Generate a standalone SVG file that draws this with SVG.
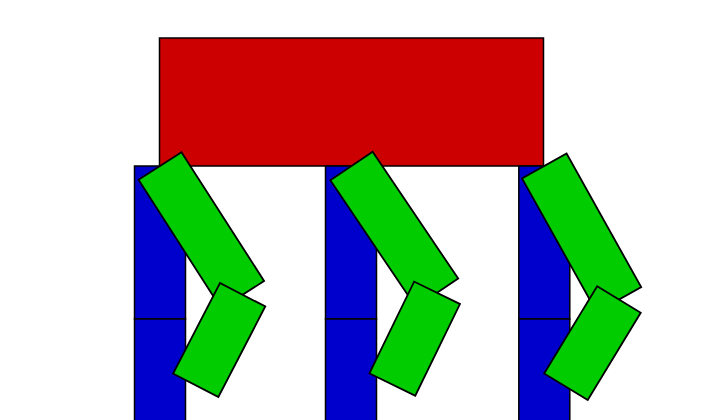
<svg xmlns="http://www.w3.org/2000/svg" width="720" height="420" viewBox="0 0 720 420">
<style>
.body{fill:#cc0000;stroke:#000;stroke-width:1.5}
.ref{fill:#0000cc;stroke:#000;stroke-width:1.5}
.seg{fill:#00cc00;stroke:#000;stroke-width:1.8;stroke-linejoin:miter}
</style>
<rect width="720" height="420" fill="#fff"/>
<g id="body"><rect class="body" x="159.5" y="38" width="384" height="128"/></g>
<g id="leg1-ref">
<rect class="ref" x="134.5" y="166" width="51" height="153"/>
<rect class="ref" x="134.5" y="319" width="51" height="153"/>
</g>
<g id="leg2-ref">
<rect class="ref" x="325.5" y="166" width="51" height="153"/>
<rect class="ref" x="325.5" y="319" width="51" height="153"/>
</g>
<g id="leg3-ref">
<rect class="ref" x="518.8" y="166" width="51" height="153"/>
<rect class="ref" x="518.8" y="319" width="51" height="153"/>
</g>
<g id="leg1" transform="translate(160,166) rotate(-32.7)">
<rect class="seg" x="-25.5" y="0" width="51" height="153"/>
<g transform="translate(0,153) rotate(60.1)"><rect class="seg" x="-25.5" y="0" width="51" height="102"/></g>
</g>
<g id="leg2" transform="translate(351.5,166) rotate(-34)">
<rect class="seg" x="-25.5" y="0" width="51" height="153"/>
<g transform="translate(0,153) rotate(60)"><rect class="seg" x="-25.5" y="0" width="51" height="102"/></g>
</g>
<g id="leg3" transform="translate(544.3,166) rotate(-29.2)">
<rect class="seg" x="-25.5" y="0" width="51" height="153"/>
<g transform="translate(0,153) rotate(60.5)"><rect class="seg" x="-25.5" y="0" width="51" height="102"/></g>
</g>
</svg>
